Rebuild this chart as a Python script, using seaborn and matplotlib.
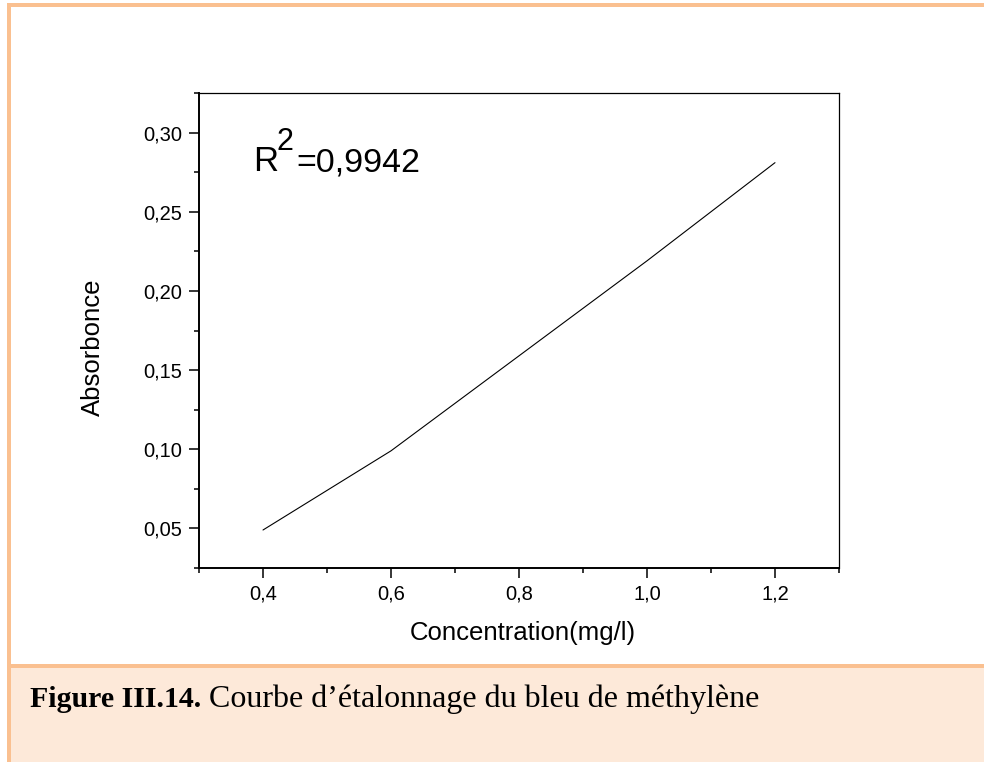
import matplotlib
matplotlib.use("Agg")
import matplotlib.pyplot as plt
from matplotlib.patches import Rectangle
from matplotlib.lines import Line2D
from matplotlib.ticker import MultipleLocator, FuncFormatter
import pandas as pd
import seaborn as sns

# Calibration data for methylene blue
concentration = [0.4, 0.6, 0.8, 1.0, 1.2]
absorbance = [0.049, 0.099, 0.159, 0.219, 0.281]
r_squared = "0,9942"

x_label = "Concentration(mg/l)"
y_label = "Absorbonce"
caption_bold = "Figure III.14."
caption_text = " Courbe d\u2019étalonnage du bleu de méthylène"

df = pd.DataFrame({"conc": concentration, "abs": absorbance})

sns.set_theme(style="ticks")
plt.rcParams["font.family"] = ["Liberation Sans", "DejaVu Sans"]

W, H = 984, 762
fig = plt.figure(figsize=(W / 100, H / 100), dpi=100)
fig.patch.set_facecolor("white")

border = "#FAC090"
fill = "#FDE9D9"

# Caption panel and frame
fig.add_artist(Rectangle((11 / W, 0), 1 - 11 / W, (H - 668) / H,
                         transform=fig.transFigure, facecolor=fill,
                         edgecolor="none", zorder=0))
fig.add_artist(Line2D([7 / W, 1], [1 - 5 / H, 1 - 5 / H], transform=fig.transFigure,
                      color=border, lw=4 * 0.72, solid_capstyle="butt"))
fig.add_artist(Line2D([9 / W, 9 / W], [0, 1 - 3 / H], transform=fig.transFigure,
                      color=border, lw=4 * 0.72, solid_capstyle="butt"))
fig.add_artist(Line2D([11 / W, 1], [1 - 666 / H, 1 - 666 / H], transform=fig.transFigure,
                      color=border, lw=4 * 0.72, solid_capstyle="butt"))

ax = fig.add_axes([199 / W, 194 / H, 640 / W, 475 / H])
ax.set_facecolor("white")

sns.lineplot(data=df, x="conc", y="abs", ax=ax, color="black", lw=0.8)

ax.set_xlim(0.3, 1.3)
ax.set_ylim(0.025, 0.325)
ax.xaxis.set_minor_locator(MultipleLocator(0.1))
ax.yaxis.set_minor_locator(MultipleLocator(0.025))
ax.set_xticks([0.4, 0.6, 0.8, 1.0, 1.2])
ax.set_yticks([0.05, 0.10, 0.15, 0.20, 0.25, 0.30])

fx = FuncFormatter(lambda v, p: f"{v:.1f}".replace(".", ","))
fy = FuncFormatter(lambda v, p: f"{v:.2f}".replace(".", ","))
ax.xaxis.set_major_formatter(fx)
ax.yaxis.set_major_formatter(fy)

for s in ax.spines.values():
    s.set_visible(True)
    s.set_color("black")
ax.spines["left"].set_linewidth(1.4)
ax.spines["bottom"].set_linewidth(1.4)
ax.spines["top"].set_linewidth(0.9)
ax.spines["right"].set_linewidth(0.9)

ax.tick_params(which="major", direction="out", length=7, width=1.1,
               labelsize=14.5, pad=5, colors="black")
ax.tick_params(which="minor", direction="out", length=3.5, width=1.1, colors="black")
ax.tick_params(top=False, right=False, which="both")

ax.set_xlabel(x_label, fontsize=18.5, color="black")
ax.set_ylabel(y_label, fontsize=18.5, color="black")
ax.xaxis.set_label_coords(0.506, -0.112)
ax.yaxis.set_label_coords(-0.147, 0.464)
ax.grid(False)

# Coefficient of determination
ax.text(0.085, 0.835, "R", transform=ax.transAxes, fontsize=25, color="black",
        ha="left", va="baseline")
ax.text(0.121, 0.880, "2", transform=ax.transAxes, fontsize=22, color="black",
        ha="left", va="baseline")
ax.text(0.152, 0.835, "=" + r_squared, transform=ax.transAxes, fontsize=24.5,
        color="black", ha="left", va="baseline")

# Caption
serif = ["Liberation Serif", "DejaVu Serif"]
t1 = fig.text(30 / W, 1 - 707 / H, caption_bold, fontsize=21.5,
              family=serif, fontweight="bold",
              ha="left", va="baseline", color="black")
fig.canvas.draw()
bb = t1.get_window_extent()
fig.text(bb.x1 / W, 1 - 707 / H, caption_text, fontsize=23,
         family=serif, ha="left", va="baseline", color="black")

fig.savefig("out.png", dpi=100, facecolor=fig.get_facecolor())
